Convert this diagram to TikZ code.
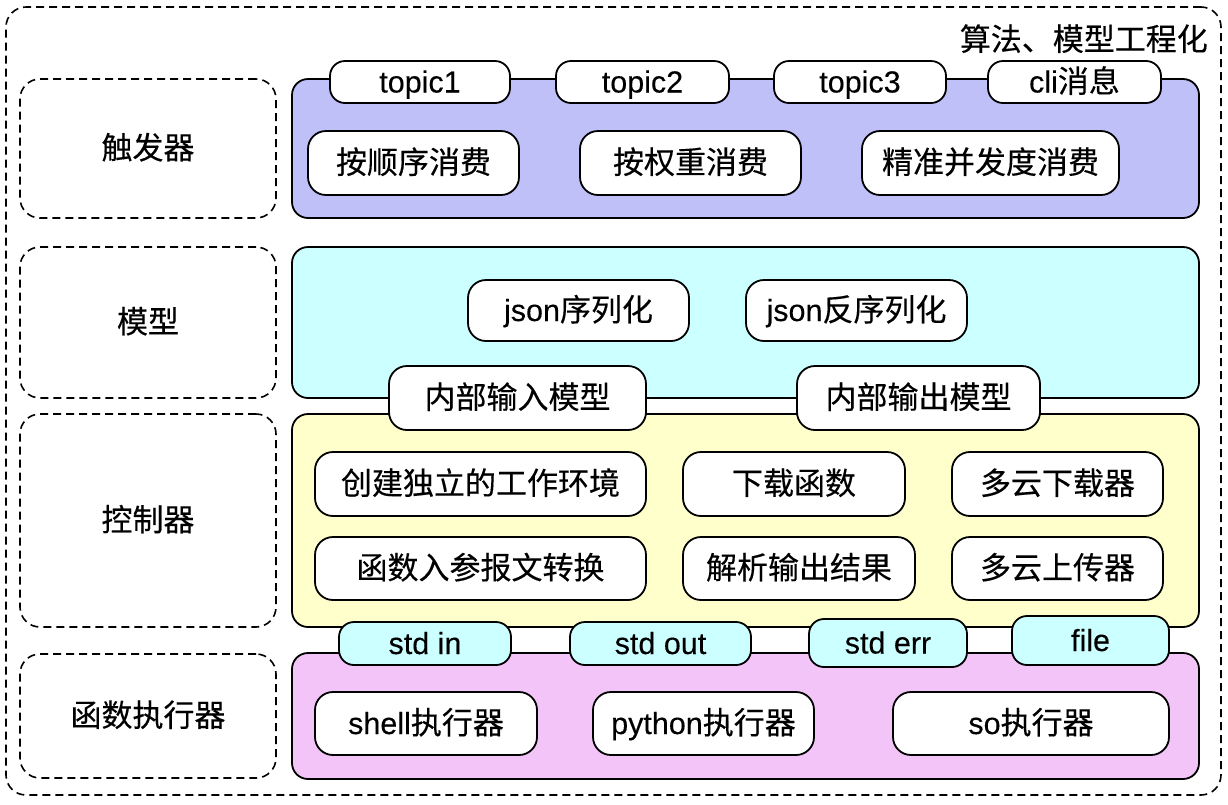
\documentclass[tikz,border=0pt]{standalone}
\usepackage{fontspec}
\setmainfont[FakeBold=0.2]{Liberation Sans}
\newfontfamily\zh[FakeBold=0.3]{Noto Sans CJK SC}
\definecolor{trigfill}{HTML}{C0C0F8}
\definecolor{modelfill}{HTML}{CCFFFF}
\definecolor{ctrlfill}{HTML}{FFFFCC}
\definecolor{execfill}{HTML}{F2C4F8}
\definecolor{pillfill}{HTML}{CCFFFF}
\newcommand\zhtext[1]{{\zh\fontsize{31}{36}\selectfont #1}}
\begin{document}
\begin{tikzpicture}[x=1pt,y=-1pt,
  every node/.style={font=\fontsize{30.5}{36}\selectfont, inner sep=0pt, text=black, text height=27pt, text depth=6pt},
  zhfont/.style={font=\zh\fontsize{31}{36}\selectfont},
  frame/.style={draw, line width=1.6pt, dash pattern=on 8pt off 5pt, rounded corners=20pt},
  panel/.style={draw, line width=1.8pt, rounded corners=16pt},
  wbox/.style={draw, line width=1.8pt, fill=white, rounded corners=18pt},
  pill/.style={draw, line width=1.8pt, rounded corners=15pt},
]
\useasboundingbox (0,0) rectangle (1228,804);

% outer frame
\node[frame, minimum width=1215pt, minimum height=788pt] (outer) at (613.5,401) {};
\node[font=\zh\fontsize{31}{40}\selectfont, anchor=east] (title) at (1208,40) {算法、模型工程化};

% left labels
\node[frame, zhfont, minimum width=256pt, minimum height=139pt] (ltrig) at (148,148.5) {触发器};
\node[frame, zhfont, minimum width=256pt, minimum height=151pt] (lmodel) at (148,322.5) {模型};
\node[frame, zhfont, minimum width=256pt, minimum height=213pt] (lctrl) at (148,520.5) {控制器};
\node[frame, zhfont, minimum width=256pt, minimum height=124pt] (lexec) at (148,716) {函数执行器};

% panels
\node[panel, fill=trigfill, minimum width=907pt, minimum height=139pt] (ptrig) at (745.5,148.5) {};
\node[panel, fill=modelfill, minimum width=907pt, minimum height=151pt] (pmodel) at (745.5,322.5) {};
\node[panel, fill=ctrlfill, minimum width=907pt, minimum height=213pt] (pctrl) at (745.5,520.5) {};
\node[panel, fill=execfill, minimum width=907pt, minimum height=126pt] (pexec) at (745.5,716) {};

% trigger
\node[pill, fill=white, minimum width=180pt, minimum height=42pt] (t1) at (420,82) {topic1};
\node[pill, fill=white, minimum width=173pt, minimum height=42pt] (t2) at (642.5,82) {topic2};
\node[pill, fill=white, minimum width=172pt, minimum height=42pt] (t3) at (860,82) {topic3};
\node[pill, fill=white, minimum width=173pt, minimum height=42pt] (t4) at (1074.5,82) {cli\zhtext{消息}};

\node[wbox, zhfont, minimum width=211pt, minimum height=64pt] (c1) at (413.5,163) {按顺序消费};
\node[wbox, zhfont, minimum width=221pt, minimum height=64pt] (c2) at (690.5,163) {按权重消费};
\node[wbox, zhfont, minimum width=257pt, minimum height=64pt] (c3) at (990.5,163) {精准并发度消费};

% model
\node[wbox, minimum width=221pt, minimum height=61pt] (m1) at (578.5,310.5) {json\zhtext{序列化}};
\node[wbox, minimum width=221pt, minimum height=61pt] (m2) at (856.5,310.5) {json\zhtext{反序列化}};
\node[wbox, zhfont, minimum width=257pt, minimum height=64pt] (min) at (517.5,398) {内部输入模型};
\node[wbox, zhfont, minimum width=243pt, minimum height=64pt] (mout) at (918.5,398) {内部输出模型};

% controller
\node[wbox, zhfont, minimum width=331pt, minimum height=64pt] (k1) at (480.5,484) {创建独立的工作环境};
\node[wbox, zhfont, minimum width=222pt, minimum height=64pt] (k2) at (794,484) {下载函数};
\node[wbox, zhfont, minimum width=211pt, minimum height=64pt] (k3) at (1057.5,484) {多云下载器};
\node[wbox, zhfont, minimum width=331pt, minimum height=63pt] (k4) at (480.5,568.5) {函数入参报文转换};
\node[wbox, zhfont, minimum width=232pt, minimum height=63pt] (k5) at (799,568.5) {解析输出结果};
\node[wbox, zhfont, minimum width=211pt, minimum height=63pt] (k6) at (1057.5,568.5) {多云上传器};

% std pills
\node[pill, fill=pillfill, minimum width=172pt, minimum height=43pt] (s1) at (425,643.5) {std in};
\node[pill, fill=pillfill, minimum width=181pt, minimum height=43pt] (s2) at (660.5,643.5) {std out};
\node[pill, fill=pillfill, minimum width=158pt, minimum height=48pt] (s3) at (888,643) {std err};
\node[pill, fill=pillfill, minimum width=157pt, minimum height=49pt] (s4) at (1090.5,640.5) {file};

% executors
\node[wbox, minimum width=222pt, minimum height=63pt] (e1) at (426,723.5) {shell\zhtext{执行器}};
\node[wbox, minimum width=221pt, minimum height=63pt] (e2) at (703.5,723.5) {python\zhtext{执行器}};
\node[wbox, minimum width=276pt, minimum height=63pt] (e3) at (1031,723.5) {so\zhtext{执行器}};
\end{tikzpicture}
\end{document}
